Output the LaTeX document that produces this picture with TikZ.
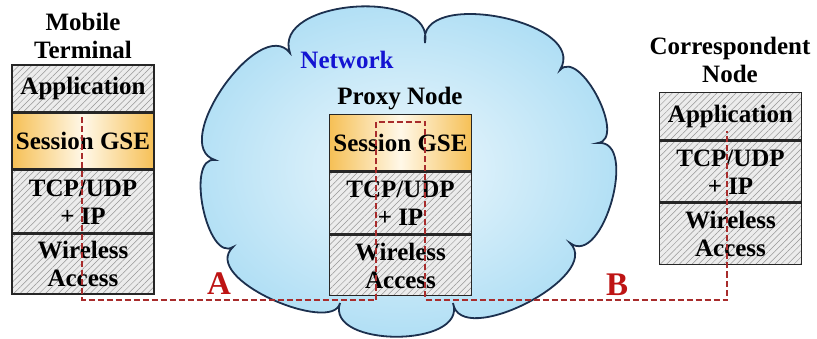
\documentclass[tikz,border=0pt]{standalone}
\usepackage{fontspec}
\setmainfont{Liberation Serif}
\usetikzlibrary{positioning, calc, patterns.meta}
\definecolor{cloudin}{RGB}{238,248,253}
\definecolor{cloudout}{RGB}{172,221,244}
\definecolor{cloudline}{RGB}{28,48,78}
\definecolor{gseedge}{RGB}{246,192,86}
\definecolor{gsemid}{RGB}{255,248,232}
\definecolor{hatchbg}{RGB}{236,236,236}
\definecolor{hatchln}{RGB}{150,150,150}
\definecolor{dashred}{RGB}{168,44,44}
\definecolor{tagred}{RGB}{190,20,20}
\definecolor{netblue}{RGB}{20,20,210}
\tikzset{
  layer/.style   = {rectangle, draw=black!85, line width=1.5pt, minimum width=142pt,
                    inner sep=0pt, align=center, font=\fontsize{25}{28}\selectfont\bfseries,
                    preaction={fill=hatchbg},
                    pattern={Lines[angle=45, distance=4.5pt, line width=0.5pt]},
                    pattern color=hatchln},
  gse/.style     = {rectangle, draw=black!85, line width=1.5pt, minimum width=142pt,
                    minimum height=56pt, inner sep=0pt, align=center,
                    font=\fontsize{25}{28}\selectfont\bfseries,
                    left color=gseedge, right color=gseedge, middle color=gsemid},
  caption/.style = {align=center, font=\fontsize{25}{28}\selectfont\bfseries},
  cloud/.style   = {draw=cloudline, line width=1.8pt, shading=radial,
                    inner color=cloudin, outer color=cloudout},
  link/.style    = {draw=dashred, line width=2.6pt, dash pattern=on 6pt off 3pt},
  tag/.style     = {text=tagred, font=\fontsize{33}{33}\selectfont\bfseries},
}
\begin{document}
\begin{tikzpicture}[x=1pt, y=-1pt]
  \useasboundingbox[fill=white] (0,0) rectangle (817,339);

  \draw[cloud] (290,53) .. controls (271,-1) and (436,-13) .. (425,43)
    .. controls (416,-13) and (590,21) .. (560,70)
    .. controls (580,48) and (627,139) .. (598,143)
    .. controls (639,139) and (603,268) .. (570,243)
    .. controls (604,276) and (460,350) .. (453,303)
    .. controls (468,348) and (325,348) .. (340,303)
    .. controls (333,335) and (199,279) .. (233,247)
    .. controls (207,263) and (185,156) .. (215,160)
    .. controls (168,145) and (260,14) .. cycle;
  \node[font=\fontsize{25}{28}\selectfont\bfseries, text=netblue] (net) at (347,60) {Network};

  \node[caption] (mtcap) at (83,36) {Mobile\\Terminal};
  \node[layer, minimum height=47pt, anchor=north] (mtapp) at (83,65) {Application};
  \node[gse, below=0pt of mtapp] (mtses) {Session GSE};
  \node[layer, minimum height=62pt, below=0pt of mtses] (mttcp) {TCP/UDP\\+ IP};
  \node[layer, minimum height=60pt, below=0pt of mttcp] (mtwl) {Wireless\\Access};

  \node[caption] (pxcap) at (400,99) {Proxy Node};
  \node[gse, anchor=north] (pxses) at (400.5,114) {Session GSE};
  \node[layer, minimum height=62pt, below=0pt of pxses] (pxtcp) {TCP/UDP\\+ IP};
  \node[layer, minimum height=60pt, below=0pt of pxtcp] (pxwl) {Wireless\\Access};

  \node[caption] (crcap) at (730,60) {Correspondent\\Node};
  \node[layer, minimum height=47pt, anchor=north] (crapp) at (730.5,92) {Application};
  \node[layer, minimum height=61pt, below=0pt of crapp] (crtcp) {TCP/UDP\\+ IP};
  \node[layer, minimum height=61pt, below=0pt of crtcp] (crwl) {Wireless\\Access};

  \coordinate (bot) at (0,300);
  \coordinate (a0) at ($(mtses.north)+(-1,5)$);
  \coordinate (p1) at ($(pxses.north)+(-24.5,8)$);
  \coordinate (p2) at ($(pxses.north)+(24.5,8)$);
  \coordinate (c0) at ($(crapp.south)+(-3.5,-9)$);
  \draw[link] (a0) -- (a0 |- bot) -- (p1 |- bot) -- (p1) -- (p2) -- (p2 |- bot)
    -- (c0 |- bot) -- (c0);

  \node[tag] (la) at (219,284) {A};
  \node[tag] (lb) at (617,285) {B};
\end{tikzpicture}
\end{document}
